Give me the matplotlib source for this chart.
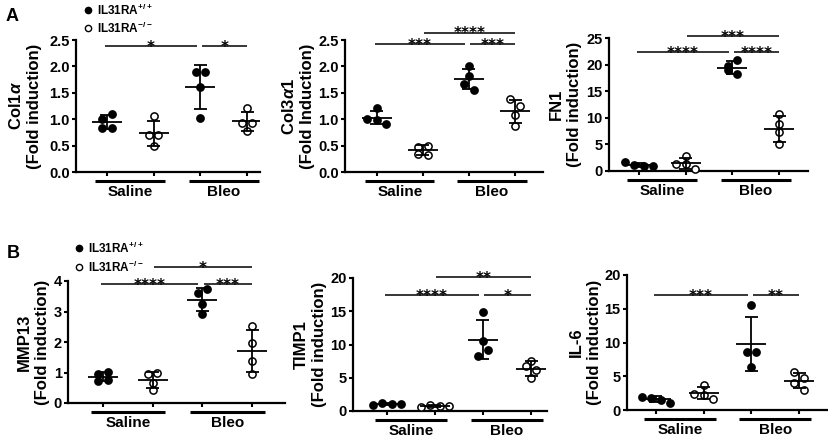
import numpy as np
import matplotlib
matplotlib.use("Agg")
import matplotlib.pyplot as plt
from matplotlib import transforms
from matplotlib.lines import Line2D

plt.rcParams["font.family"] = ["Liberation Sans", "DejaVu Sans"]
plt.rcParams["font.weight"] = "bold"
plt.rcParams["mathtext.fontset"] = "custom"
plt.rcParams["mathtext.rm"] = "Liberation Sans:bold"
plt.rcParams["mathtext.it"] = "Liberation Sans:italic:bold"
plt.rcParams["mathtext.bf"] = "Liberation Sans:bold"

GROUPS = ["Saline", "Bleo"]

# fold induction per mouse; rows = WT saline, KO saline, WT bleo, KO bleo
COL1A = [[1.00, 1.10, 0.84, 0.84], [1.06, 0.70, 0.70, 0.49],
         [1.90, 1.90, 1.61, 1.03], [1.21, 0.93, 0.93, 0.78]]
COL3A1 = [[1.21, 1.01, 0.99, 0.91], [0.48, 0.50, 0.35, 0.33],
          [2.00, 1.82, 1.67, 1.55], [1.38, 1.25, 1.08, 0.88]]
FN1 = [[1.6, 1.1, 1.0, 0.9], [1.4, 2.8, 1.3, 0.3],
       [19.75, 20.9, 18.9, 18.2], [10.8, 8.8, 7.3, 5.0]]
MMP13 = [[0.95, 1.03, 0.71, 0.76], [0.95, 0.99, 0.65, 0.41],
         [3.61, 3.75, 3.26, 2.93], [2.53, 1.96, 1.39, 0.96]]
TIMP1 = [[0.95, 1.25, 1.0, 1.1], [0.6, 0.85, 0.7, 0.75],
         [14.96, 10.5, 8.3, 9.2], [7.56, 6.8, 6.15, 4.9]]
IL6 = [[1.98, 1.83, 1.5, 1.0], [3.7, 2.3, 2.2, 1.6],
       [15.6, 8.64, 8.64, 6.3], [5.6, 3.95, 4.8, 2.96]]

# significance bars: (from group, to group, stars, height)
SIG_COL1A = [(0, 2, "*", 2.39), (2, 3, "*", 2.39)]
SIG_COL3A1 = [(0, 2, "***", 2.42), (2, 3, "***", 2.42), (1, 3, "****", 2.64)]
SIG_FN1 = [(0, 2, "****", 22.4), (2, 3, "****", 22.4), (1, 3, "***", 25.3)]
SIG_MMP13 = [(0, 2, "****", 3.91), (2, 3, "***", 3.91), (1, 3, "*", 4.46)]
SIG_TIMP1 = [(0, 2, "****", 17.4), (2, 3, "*", 17.4), (1, 3, "**", 20.1)]
SIG_IL6 = [(0, 2, "***", 17.0), (2, 3, "**", 17.0)]

W, H = 829, 438

# panel layout in figure pixels: left, right, top, bottom, first tick, tick step,
# ymax, ystep, tick format, ylabel, right edge of ylabel
PANELS = [
    (76, 260, 40, 172, 107, 46.7, 2.5, 0.5, "{:.1f}",
     "Col1$\\alpha$\n(Fold induction)", 42, COL1A, SIG_COL1A),
    (345, 543, 40, 172, 377, 46.0, 2.5, 0.5, "{:.1f}",
     "Col3$\\alpha$1\n(Fold Induction)", 315, COL3A1, SIG_COL3A1),
    (609, 808, 38, 171, 639, 46.7, 25, 5, "{:.0f}",
     "FN1\n(Fold induction)", 582, FN1, SIG_FN1),
    (68, 285, 281, 403, 103, 49.7, 4, 1, "{:.0f}",
     "MMP13\n(Fold induction)", 50, MMP13, SIG_MMP13),
    (353, 547, 278, 411, 387, 48.0, 20, 5, "{:.0f}",
     "TIMP1\n(Fold induction)", 327, TIMP1, SIG_TIMP1),
    (627, 827, 275, 410, 656, 47.7, 20, 5, "{:.0f}",
     "IL-6\n(Fold induction)", 602, IL6, SIG_IL6),
]


def spread(vals, px_per_unit, thresh=7.0, step=9.5):
    """Prism-like horizontal spreading of overlapping dots, in pixels."""
    vals = np.asarray(vals, float)
    order = np.argsort(vals, kind="stable")
    clusters = []
    for i in order:
        if clusters and (vals[i] - vals[clusters[-1][0]]) * px_per_unit < thresh:
            clusters[-1].append(i)
        else:
            clusters.append([i])
    off = np.zeros(len(vals))
    for c in clusters:
        c = sorted(c)
        n = len(c)
        for k, i in enumerate(c):
            off[i] = (k - (n - 1) / 2) * step
    return off


fig = plt.figure(figsize=(W / 100, H / 100), dpi=100)

for (left, right, top, bot, tick0, sp, ymax, ystep, fmt, ylab, lab_r,
     data, sigs) in PANELS:
    ax = fig.add_axes([left / W, 1 - bot / H, (right - left) / W, (bot - top) / H])
    hpx = bot - top
    ppu = hpx / ymax
    ax.set_xlim(-(tick0 - left) / sp, (right - tick0) / sp)
    ax.set_ylim(0, ymax)

    for g, vals in enumerate(data):
        off = spread(vals, ppu) / sp
        filled = g % 2 == 0
        ax.plot(g + off, vals, "o", ms=5.2, mfc="black" if filled else "white",
                mec="black", mew=1.1, ls="none", zorder=3, clip_on=False)
        m = np.mean(vals)
        s = np.std(vals, ddof=1)
        hw, cw = 15 / sp, 6.5 / sp
        kw = dict(color="black", lw=1.3, zorder=4, solid_capstyle="butt")
        ax.plot([g - hw, g + hw], [m, m], **kw)
        ax.plot([g, g], [m - s, m + s], **kw)
        ax.plot([g - cw, g + cw], [m + s, m + s], **kw)
        ax.plot([g - cw, g + cw], [m - s, m - s], **kw)

    # significance bars
    for a, b, lab, y in sigs:
        x0 = a + (0.03 if a > 0 else -0.05)
        x1 = b - (0.08 if b == 2 else 0.0)
        ax.plot([x0, x1], [y, y], color="black", lw=1.1, clip_on=False,
                solid_capstyle="butt")
        ax.annotate(lab, ((x0 + x1) / 2, y), xytext=(0, -4.2),
                    textcoords="offset points", ha="center", va="baseline",
                    fontsize=11, family="DejaVu Sans", fontweight="bold",
                    annotation_clip=False)

    # group underlines and labels
    tr = transforms.blended_transform_factory(ax.transData, ax.transAxes)
    for k, name in enumerate(GROUPS):
        c0, c1 = 2 * k, 2 * k + 1
        ax.plot([c0 - 0.25, c1 + 0.25], [-9 / hpx, -9 / hpx], color="black",
                lw=2.2, transform=tr, clip_on=False, solid_capstyle="butt")
        ax.text((c0 + c1) / 2, -20 / hpx, name, transform=tr, ha="center",
                va="center", fontsize=11, fontweight="bold")

    yt = np.arange(0, ymax + ystep / 2, ystep)
    ax.set_yticks(yt)
    ax.set_yticklabels([fmt.format(v) for v in yt], fontsize=10.5, fontweight="bold")
    ax.set_xticks([0, 1, 2, 3])
    ax.set_xticklabels([])
    ax.tick_params(axis="y", length=3, width=1.5, pad=1.5)
    ax.tick_params(axis="x", length=3, width=1.5)
    for side in ("top", "right"):
        ax.spines[side].set_visible(False)
    for side in ("left", "bottom"):
        ax.spines[side].set_linewidth(1.6)

    ax.set_ylabel(ylab, fontsize=12, fontweight="bold", linespacing=1.25)
    ax.yaxis.set_label_coords((lab_r - left) / (right - left), 0.5)

# panel letters
fig.text(6 / W, 1 - 21 / H, "A", fontsize=13, fontweight="bold", va="baseline")
fig.text(7 / W, 1 - 258 / H, "B", fontsize=13, fontweight="bold", va="baseline")

# legends
for mx, my, tx in [(88, 10, 97), (79, 248, 88)]:
    for j, (fill, sup) in enumerate([("black", "+/+"), ("white", "-/-")]):
        yy = my + j * (18 if mx == 88 else 19)
        fig.add_artist(Line2D([mx / W], [1 - yy / H], marker="o", ms=4.5,
                              mfc=fill, mec="black", mew=1.0,
                              transform=fig.transFigure))
        fig.text(tx / W, 1 - yy / H, "IL31RA$^{\\mathbf{" + sup + "}}$",
                 fontsize=8.5, fontweight="bold", va="center")

fig.savefig("out.png", dpi=100)
